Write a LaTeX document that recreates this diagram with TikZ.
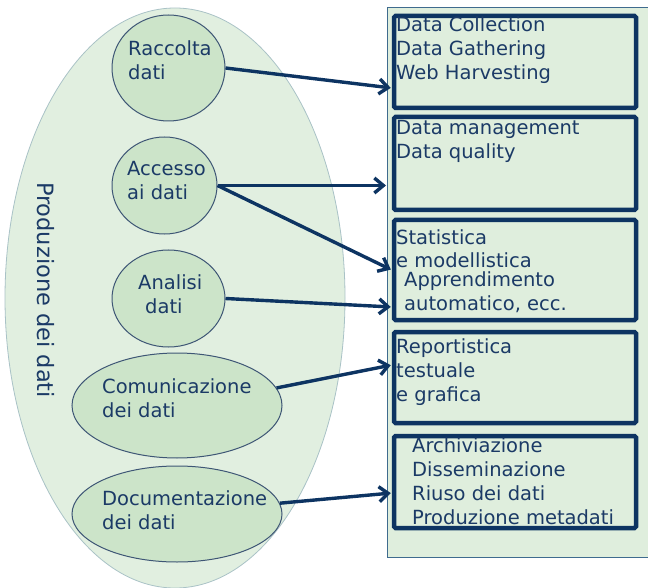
\documentclass[tikz,border=0pt]{standalone}
\usepackage{fontspec}
\setmainfont{DejaVu Sans}
\usetikzlibrary{shapes.geometric,arrows.meta}

\definecolor{navy}{HTML}{0D3462}
\definecolor{inktext}{HTML}{1B3A66}
\definecolor{stagefill}{HTML}{CCE4C9}
\definecolor{stageline}{HTML}{3E5675}
\definecolor{bigfill}{HTML}{E1EFE0}
\definecolor{bigline}{HTML}{A9C2C6}
\definecolor{panelfill}{HTML}{DFEEDD}
\definecolor{panelline}{HTML}{3F6B8E}

\tikzset{
  stage/.style={ellipse, draw=stageline, fill=stagefill, line width=1pt, inner sep=0pt},
  stagetext/.style={text=inktext, align=left, inner sep=0pt, anchor=base west, font=\fontsize{19.5}{24}\selectfont},
  outbox/.style={draw=navy, line width=4.5pt, rounded corners=1.5pt, minimum width=242pt, inner sep=0pt},
  flow/.style={navy, line width=3.4pt, ->, shorten >=1pt},
}

\begin{document}
\begin{tikzpicture}[x=1pt, y=-1pt, >={Straight Barb[length=9pt,width=15pt]}]
\useasboundingbox (0,0) rectangle (648,588);

% left side: the production of data
\node [ellipse, draw=bigline, fill=bigfill, line width=.8pt, minimum width=340pt, minimum height=580pt] (prod) at (175, 298) {};
\node [rotate=-90, text=inktext, inner sep=0pt, font=\fontsize{22.5}{27}\selectfont] (prodlabel) at (45.5, 290) {Produzione dei dati};

\node [stage, minimum width=113pt, minimum height=106pt] (raccolta) at (168.5, 68) {};
\node [stage, minimum width=105pt, minimum height=97pt] (accesso) at (164.5, 185.5) {};
\node [stage, minimum width=113pt, minimum height=97pt] (analisi) at (168.5, 298.5) {};
\node [stage, minimum width=210pt, minimum height=105pt] (comunicazione) at (177, 405.5) {};
\node [stage, minimum width=210pt, minimum height=96pt] (documentazione) at (177, 514) {};

% texts sit on the baseline of their last line
\node [stagetext] (raccolta-txt) at (128, 80) {Raccolta\\dati};
\node [stagetext] (accesso-txt) at (127, 200) {Accesso\\ai dati};
\node [stagetext] (analisi-txt) at (138, 313) {Analisi\\\hspace*{7pt}dati};
\node [stagetext] (comunicazione-txt) at (102, 417) {Comunicazione\\dei dati};
\node [stagetext] (documentazione-txt) at (102, 529) {Documentazione\\dei dati};

% right side: the activities
\node [draw=panelline, fill=panelfill, line width=.8pt, minimum width=275pt, minimum height=550pt, anchor=north west, inner sep=0pt] (panel) at (387, 7) {};

\node [outbox, minimum height=92pt] (collect) at (515, 62) {};
\node [outbox, minimum height=93pt] (manage) at (515, 163.5) {};
\node [outbox, minimum height=100pt] (model) at (515, 270) {};
\node [outbox, minimum height=91pt] (report) at (515, 377.5) {};
\node [outbox, minimum height=92pt] (archive) at (515, 482) {};

\node [stagetext] (collect-txt) at (396, 80) {Data Collection\\Data Gathering\\Web Harvesting};
\node [stagetext] (manage-txt) at (396, 159) {Data management\\Data quality};
\node [stagetext] (model-txt) at (396, 268) {Statistica\\e modellistica};
\node [stagetext] (learn-txt) at (404, 310) {Apprendimento\\automatico, ecc.};
\node [stagetext] (report-txt) at (396, 401) {Reportistica\\testuale\\e grafica};
\node [stagetext] (archive-txt) at (412, 524) {Archiviazione\\Disseminazione\\Riuso dei dati\\Produzione metadati};

% arrows
\draw [flow] (raccolta.east) -- ([yshift=-26pt]collect.west);
\draw [flow] (accesso.east) -- (accesso.east -| panel.west);
\draw [flow] (accesso.east) -- (model.west);
\draw [flow] (analisi.east) -- ([yshift=-37pt]model.west);
\draw [flow] (comunicazione.10) -- ([yshift=12.5pt]report.west);
\draw [flow] (documentazione.6) -- ([yshift=-11pt]archive.west);
\end{tikzpicture}
\end{document}
